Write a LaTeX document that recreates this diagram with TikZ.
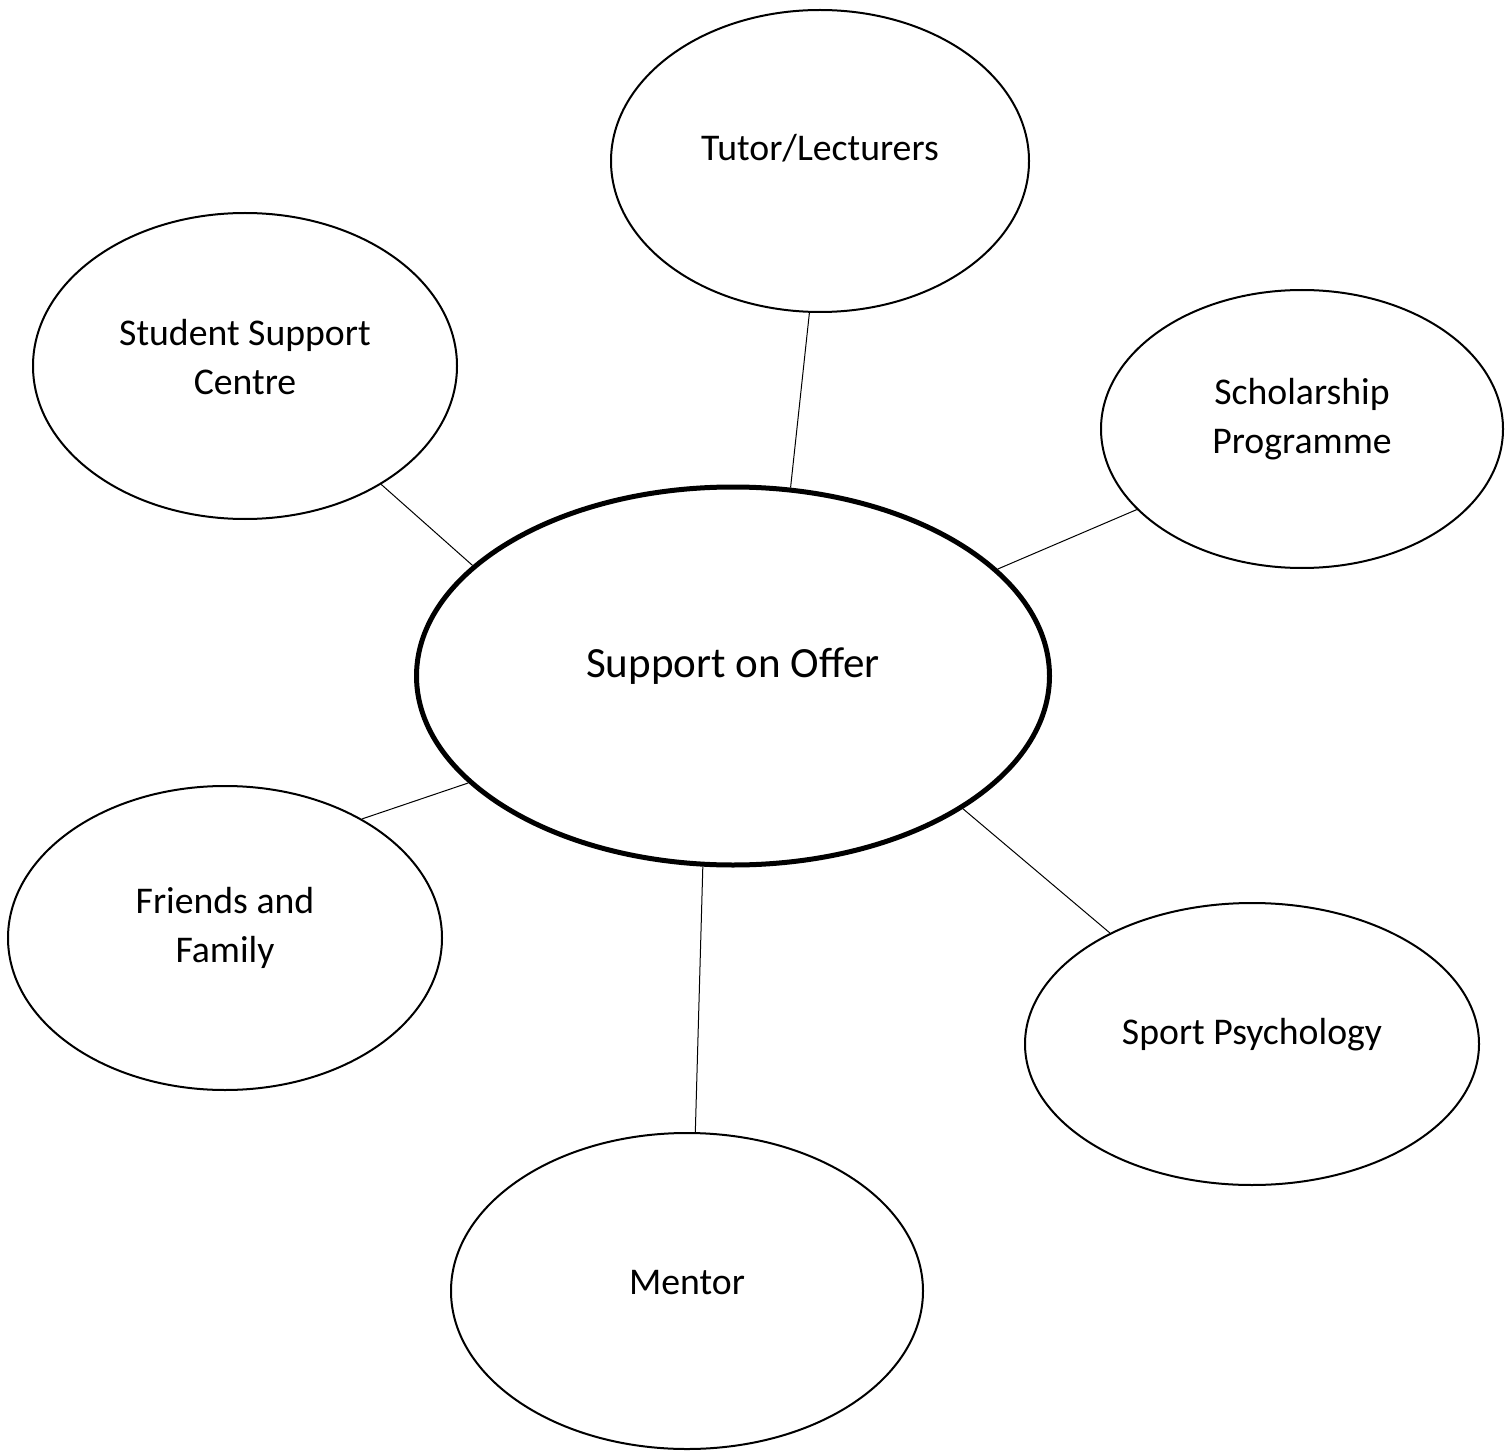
\documentclass[tikz,border=0pt]{standalone}
\usepackage{fontspec}
\setmainfont{Carlito}
\usetikzlibrary{shapes.geometric}
\begin{document}
\begin{tikzpicture}[x=0.75pt,y=-0.75pt,
  bubble/.style={ellipse,draw,line width=1.5pt,inner sep=0pt},
  hub/.style={ellipse,draw,line width=3.75pt,inner sep=0pt},
  lbl/.style={align=center,font=\fontsize{28.3}{36.5}\selectfont},
  hublbl/.style={align=center,font=\fontsize{32.3}{38}\selectfont},
  link/.style={line width=0.75pt}]
\useasboundingbox (0,0) rectangle (1510,1451);
\node[hub,minimum width=633*0.75pt,minimum height=378*0.75pt] (c) at (733,676) {};
\node[hublbl] (ct) at (733,666) {Support on Offer};
\node[bubble,minimum width=418*0.75pt,minimum height=302*0.75pt] (tut) at (820,161) {};
\node[lbl] (tutt) at (820,148) {Tutor/Lecturers};
\node[bubble,minimum width=424*0.75pt,minimum height=306*0.75pt] (ssc) at (245,366) {};
\node[lbl] (ssct) at (245,357) {Student Support\\Centre};
\node[bubble,minimum width=402*0.75pt,minimum height=278*0.75pt] (sch) at (1302,429) {};
\node[lbl] (scht) at (1302,419) {Scholarship\\Programme};
\node[bubble,minimum width=434*0.75pt,minimum height=304*0.75pt] (ff) at (225,938) {};
\node[lbl] (fft) at (225,928) {Friends and\\Family};
\node[bubble,minimum width=454*0.75pt,minimum height=282*0.75pt] (sp) at (1252,1044) {};
\node[lbl] (spt) at (1252,1035) {Sport Psychology};
\node[bubble,minimum width=472*0.75pt,minimum height=316*0.75pt] (men) at (687,1291) {};
\node[lbl] (ment) at (687,1283) {Mentor};
\draw[link] (c.73.9) -- (tut.-94.5);
\draw[link] (c.157.1) -- (ssc.-41.4);
\draw[link] (c.22.8) -- (sch.-154.3);
\draw[link] (c.-158.6) -- (ff.41.6);
\draw[link] (c.-30.9) -- (sp.142.5);
\draw[link] (c.-99.5) -- (men.87.1);
\end{tikzpicture}
\end{document}
